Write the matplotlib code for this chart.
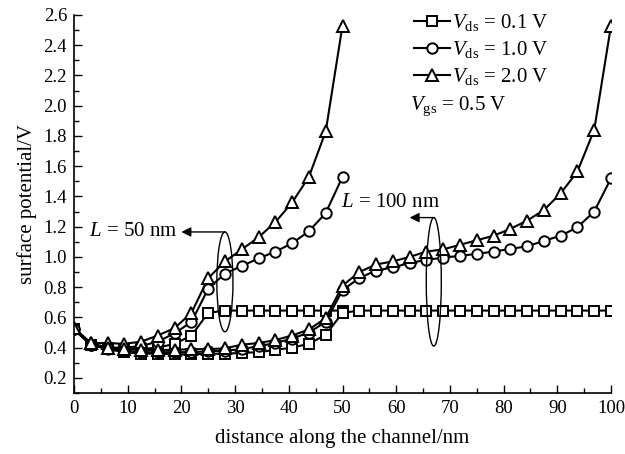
import matplotlib.pyplot as plt
from matplotlib.patches import Ellipse
from matplotlib.ticker import MultipleLocator, FormatStrFormatter

plt.rcParams['font.family'] = 'Liberation Serif'
plt.rcParams['mathtext.fontset'] = 'custom'
plt.rcParams['mathtext.rm'] = 'Liberation Serif'
plt.rcParams['mathtext.it'] = 'Liberation Serif:italic'

# positions along the channel (nm)
x_50 = [0, 3.125, 6.25, 9.375, 12.5, 15.625, 18.75, 21.875, 25, 28.125,
        31.25, 34.375, 37.5, 40.625, 43.75, 46.875, 50]
x_100 = x_50 + [53.125, 56.25, 59.375, 62.5, 65.625, 68.75, 71.875, 75,
                78.125, 81.25, 84.375, 87.5, 90.625, 93.75, 96.875, 100]

# L = 50 nm
v01_50 = [0.52, 0.42, 0.40, 0.39, 0.39, 0.40, 0.425, 0.48, 0.63, 0.645,
          0.645, 0.645, 0.645, 0.645, 0.645, 0.645, 0.645]
v10_50 = [0.52, 0.42, 0.40, 0.40, 0.41, 0.44, 0.495, 0.57, 0.79, 0.89,
          0.94, 0.99, 1.035, 1.09, 1.17, 1.29, 1.53]
v20_50 = [0.53, 0.43, 0.43, 0.425, 0.44, 0.48, 0.53, 0.63, 0.86, 0.97,
          1.05, 1.13, 1.23, 1.36, 1.53, 1.83, 2.53]

# L = 100 nm
v01_100 = [0.52, 0.42, 0.39, 0.37, 0.36, 0.36, 0.355, 0.355, 0.36, 0.36,
           0.365, 0.37, 0.385, 0.40, 0.425, 0.485, 0.63,
           0.645, 0.645, 0.645, 0.645, 0.645, 0.645, 0.645, 0.645,
           0.645, 0.645, 0.645, 0.645, 0.645, 0.645, 0.645, 0.645]
v10_100 = [0.52, 0.42, 0.39, 0.38, 0.37, 0.37, 0.37, 0.37, 0.375, 0.38,
           0.39, 0.41, 0.43, 0.46, 0.50, 0.57, 0.78,
           0.86, 0.91, 0.93, 0.96, 0.98, 0.995, 1.007, 1.02,
           1.035, 1.053, 1.07, 1.106, 1.14, 1.196, 1.30, 1.52]
v20_100 = [0.53, 0.43, 0.40, 0.39, 0.385, 0.385, 0.385, 0.39, 0.39, 0.395,
           0.42, 0.43, 0.45, 0.48, 0.52, 0.595, 0.81,
           0.90, 0.95, 0.97, 1.00, 1.035, 1.05, 1.08, 1.11,
           1.14, 1.185, 1.24, 1.31, 1.42, 1.565, 1.84, 2.53]

labels = [r'$V_{\rm ds}$ = 0.1 V', r'$V_{\rm ds}$ = 1.0 V', r'$V_{\rm ds}$ = 2.0 V']

fig = plt.figure(figsize=(6.25, 4.54), dpi=100)
ax = fig.add_axes([0.1184, 0.1344, 0.8592, 0.8326])

style = dict(color='black', lw=1.5, mfc='white', mec='black', mew=1.4)
h1, = ax.plot(x_50, v01_50, marker='s', ms=6.5, label=labels[0], **style)
h2, = ax.plot(x_50, v10_50, marker='o', ms=7.5, label=labels[1], **style)
h3, = ax.plot(x_50, v20_50, marker='^', ms=8, label=labels[2], **style)
ax.plot(x_100, v01_100, marker='s', ms=6.5, **style)
ax.plot(x_100, v10_100, marker='o', ms=7.5, **style)
ax.plot(x_100, v20_100, marker='^', ms=8, **style)

# ellipses and arrows marking the two channel lengths
ax.add_patch(Ellipse((28.1, 0.835), 3.0, 0.66, fill=False, lw=1.0, zorder=5))
ax.annotate('', xy=(20.0, 1.165), xytext=(28.1, 1.165),
            arrowprops=dict(arrowstyle='-|>', color='black', lw=1.0,
                            mutation_scale=14, shrinkA=0, shrinkB=0))
ax.text(19.3, 1.165, r'$L$ = 50 nm', fontsize=15, ha='right', va='center')

ax.add_patch(Ellipse((67.0, 0.835), 2.8, 0.85, fill=False, lw=1.0, zorder=5))
ax.annotate('', xy=(62.5, 1.26), xytext=(67.0, 1.26),
            arrowprops=dict(arrowstyle='-|>', color='black', lw=1.0,
                            mutation_scale=14, shrinkA=0, shrinkB=0))
ax.text(59.0, 1.36, r'$L$ = 100 nm', fontsize=15, ha='center', va='center')

ax.legend(handles=[h1, h2, h3], loc='upper left', bbox_to_anchor=(0.617, 1.03),
          frameon=False, fontsize=15, handlelength=1.75, handletextpad=0.1,
          labelspacing=0.3, borderaxespad=0)
ax.text(0.626, 0.758, r'$V_{\rm gs}$ = 0.5 V', transform=ax.transAxes,
        fontsize=15, ha='left', va='center')

ax.set_xlim(0, 100)
ax.set_ylim(0.1, 2.6)
ax.xaxis.set_major_locator(MultipleLocator(10))
ax.xaxis.set_minor_locator(MultipleLocator(5))
ax.yaxis.set_minor_locator(MultipleLocator(0.1))
ax.yaxis.set_major_formatter(FormatStrFormatter('%.1f'))
ax.set_yticks([0.2, 0.4, 0.6, 0.8, 1.0, 1.2, 1.4, 1.6, 1.8, 2.0, 2.2, 2.4, 2.6])
ax.tick_params(which='both', direction='in', labelsize=13.5, width=1.0)
ax.tick_params(which='major', length=6, pad=5)
ax.tick_params(which='minor', length=3.5)
ax.spines['top'].set_visible(False)
ax.spines['right'].set_visible(False)
ax.spines['left'].set_linewidth(1.2)
ax.spines['bottom'].set_linewidth(1.2)

ax.set_xlabel('distance along the channel/nm', fontsize=15, labelpad=9)
ax.set_ylabel('surface potential/V', fontsize=15, labelpad=5)

fig.savefig('out.png', dpi=100)
